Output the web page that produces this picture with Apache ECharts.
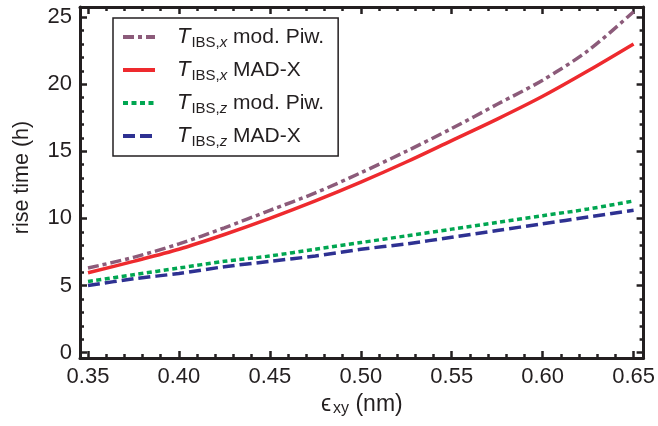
<!DOCTYPE html>
<html>
<head>
<meta charset="utf-8">
<script src="https://cdn.jsdelivr.net/npm/echarts@6/dist/echarts.min.js"></script>
<style>
html,body{margin:0;padding:0;background:#fff;}
#chart{width:658px;height:426px;}
</style>
</head>
<body>
<div id="chart"></div>
<script>
// ---- data ----
const emittance = [0.35, 0.375, 0.40, 0.425, 0.45, 0.475, 0.50, 0.525, 0.55, 0.575, 0.60, 0.625, 0.65];
const tibsXPiw  = [6.3, 7.1, 8.1, 9.3, 10.6, 11.9, 13.4, 15.0, 16.7, 18.5, 20.3, 22.5, 25.4];
const tibsXMadx = [5.95, 6.8, 7.7, 8.8, 10.0, 11.3, 12.7, 14.2, 15.8, 17.4, 19.1, 21.0, 23.0];
const tibsZPiw  = [5.3, 5.8, 6.3, 6.8, 7.2, 7.7, 8.2, 8.7, 9.2, 9.7, 10.2, 10.7, 11.3];
const tibsZMadx = [5.0, 5.5, 5.9, 6.4, 6.8, 7.2, 7.7, 8.1, 8.6, 9.1, 9.6, 10.1, 10.6];

const xTickLabels = [0.35, 0.40, 0.45, 0.50, 0.55, 0.60, 0.65];
const yTickLabels = [0, 5, 10, 15, 20, 25];

const xMinor = []; for (let i = 35; i <= 65; i++) xMinor.push(i / 100);
const yMinor = []; for (let i = 0; i <= 25; i++) yMinor.push(i);

const X_MIN = 0.3456, X_MAX = 0.6555, Y_MIN = -0.4, Y_MAX = 25.75;
const INK = '#231f20';
const FONT = 'Liberation Sans, Arial, Helvetica, sans-serif';

const pairs = vals => emittance.map((e, i) => [e, vals[i]]);

const legendRich = {
  t: {fontSize: 22, fontStyle: 'italic', fontFamily: FONT, color: INK, padding: [0, 0, 0, 17]},
  s: {fontSize: 15, fontFamily: FONT, color: INK, padding: [11, 0, 0, 1]},
  si: {fontSize: 15, fontStyle: 'italic', fontFamily: FONT, color: INK, padding: [11, 0, 0, 0]},
  m: {fontSize: 21, fontFamily: FONT, color: INK}
};
const legendNames = {
  a: '{t|T}{s|IBS,}{si|x}{m| mod. Piw.}',
  b: '{t|T}{s|IBS,}{si|x}{m| MAD-X}',
  c: '{t|T}{s|IBS,}{si|z}{m| mod. Piw.}',
  d: '{t|T}{s|IBS,}{si|z}{m| MAD-X}'
};

function xAxisCfg(pos, major, labels) {
  return {
    type: 'value', position: pos, min: X_MIN, max: X_MAX,
    axisLine: {show: major, onZero: false, lineStyle: {color: INK, width: 3}},
    axisTick: {show: true, inside: true, length: major ? 7 : 4, lineStyle: {color: INK, width: 2.5},
               customValues: major ? xTickLabels : xMinor},
    axisLabel: labels ? {show: true, customValues: xTickLabels, formatter: v => v.toFixed(2),
               fontSize: 22, fontFamily: FONT, color: INK, margin: 8} : {show: false},
    splitLine: {show: false}
  };
}
function yAxisCfg(pos, major, labels) {
  return {
    type: 'value', position: pos, min: Y_MIN, max: Y_MAX,
    axisLine: {show: major, onZero: false, lineStyle: {color: INK, width: 3}},
    axisTick: {show: true, inside: true, length: major ? 7 : 4, lineStyle: {color: INK, width: 2.5},
               customValues: major ? yTickLabels : yMinor},
    axisLabel: labels ? {show: true, customValues: yTickLabels, fontSize: 22, fontFamily: FONT,
               color: INK, margin: 8} : {show: false},
    splitLine: {show: false}
  };
}

const xMain = xAxisCfg('bottom', true, true);
xMain.name = '{e|ϵ}{sub|xy}{n| (nm)}';
xMain.nameLocation = 'middle';
xMain.nameGap = 30;
xMain.nameTextStyle = {rich: {
  e: {fontSize: 23, fontFamily: FONT, color: INK},
  sub: {fontSize: 16, fontFamily: FONT, color: INK, padding: [9, 0, 0, 2]},
  n: {fontSize: 23, fontFamily: FONT, color: INK}
}};
const yMain = yAxisCfg('left', true, true);
yMain.name = 'rise time (h)';
yMain.nameLocation = 'middle';
yMain.nameGap = 47;
yMain.nameTextStyle = {fontSize: 21.5, fontFamily: FONT, color: INK, padding: [0, 0, 0, 10]};

function series(name, vals, color, type) {
  return {
    name: name, type: 'line', data: pairs(vals), xAxisIndex: 0, yAxisIndex: 0,
    symbol: 'none', smooth: 0.3,
    lineStyle: {color: color, width: 3.5, type: type},
    itemStyle: {color: color}
  };
}

const chart = echarts.init(document.getElementById('chart'), null, {renderer: 'canvas'});
chart.setOption({
  animation: false,
  backgroundColor: '#fff',
  grid: {left: 80, right: 11, top: 7, bottom: 68, containLabel: false},
  xAxis: [xMain, xAxisCfg('bottom', false, false), xAxisCfg('top', true, false), xAxisCfg('top', false, false)],
  yAxis: [yMain, yAxisCfg('left', false, false), yAxisCfg('right', true, false), yAxisCfg('right', false, false)],
  legend: {
    orient: 'vertical', left: 113, top: 18,
    backgroundColor: '#fff', borderColor: INK, borderWidth: 1.5, borderRadius: 0,
    padding: [6, 14, 7, 8], itemGap: 7, itemWidth: 32, itemHeight: 14,
    data: ['a', 'b', 'c', 'd'],
    formatter: n => legendNames[n],
    itemStyle: {opacity: 0},
    lineStyle: {width: 4},
    textStyle: {rich: legendRich, lineHeight: 26}
  },
  series: [
    series('a', tibsXPiw, '#8C5B7A', [11, 4, 4, 4]),
    series('b', tibsXMadx, '#EE2A2E', 'solid'),
    series('c', tibsZPiw, '#00A651', [5, 3.5]),
    series('d', tibsZMadx, '#2E3192', [12, 5])
  ]
});
</script>
</body>
</html>
